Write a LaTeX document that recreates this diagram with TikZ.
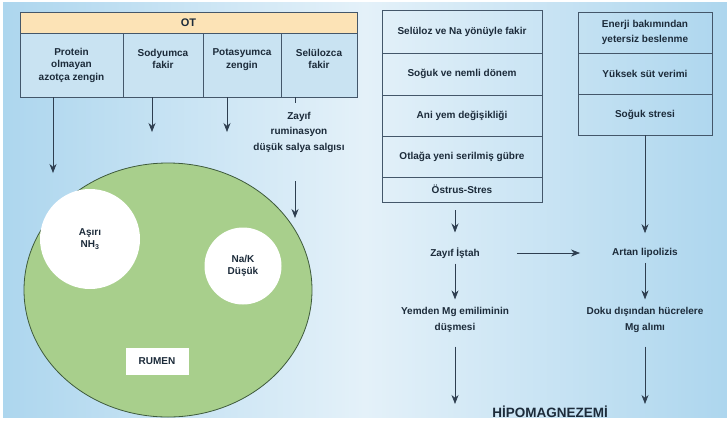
\documentclass[tikz,border=0pt]{standalone}
\usepackage{fontspec}
\setmainfont{Liberation Sans}
\usetikzlibrary{arrows.meta, shapes.geometric, positioning}

\definecolor{bgblue}{HTML}{ADD6EE}
\definecolor{bgmid}{HTML}{E4F1F9}
\definecolor{otfill}{HTML}{FCE3B6}
\definecolor{cellblue}{HTML}{C9E3F2}
\definecolor{boxline}{HTML}{44576A}
\definecolor{arrline}{HTML}{2E3E50}
\definecolor{txt}{HTML}{1C2B3A}
\definecolor{rumgreen}{HTML}{A8CF8C}
\definecolor{rumline}{HTML}{3E5A3C}

\newcommand{\cfont}{\fontsize{10}{12.5}\selectfont\bfseries}
\newcommand{\lfont}{\fontsize{10}{15.5}\selectfont\bfseries}

\tikzset{
  cell/.style={draw=boxline, line width=0.8pt, fill=cellblue, align=center, font=\cfont, text=txt, inner sep=1pt},
  lbl/.style={align=center, font=\lfont, text=txt, inner sep=2pt},
  ln/.style={draw=arrline, line width=0.7pt},
  arr/.style={ln, -{Stealth[length=9pt,width=7pt]}}
}

\begin{document}
\begin{tikzpicture}[x=1pt, y=-1pt]
\useasboundingbox (0,0) rectangle (727,429);
\shade[left color=bgblue, right color=bgblue, middle color=bgmid] (3,2) rectangle (727,417);

% OT table
\node[cell, fill=otfill, minimum width=337pt, minimum height=21pt, font=\fontsize{11}{12}\selectfont\bfseries] (ot) at (188.5,22.5) {OT};
\node[cell, minimum width=103pt, minimum height=64pt] (c1) at (71.5,65) {Protein\\olmayan\\azotça zengin};
\node[cell, minimum width=80pt, minimum height=64pt] (c2) at (163,65) {Sodyumca\\fakir\\~};
\node[cell, minimum width=78pt, minimum height=64pt] (c3) at (242,65) {Potasyumca\\zengin\\~};
\node[cell, minimum width=76pt, minimum height=64pt] (c4) at (319,65) {Selülozca\\fakir\\~};

% rumen
\node[ellipse, draw=rumline, line width=0.8pt, fill=rumgreen, minimum width=288pt, minimum height=254pt] (rum) at (168,290) {};
\node[circle, fill=white, minimum size=100pt, align=center, font=\cfont, text=txt] (nh) at (90,239) {Aşırı\\NH\textsubscript{3}};
\node[circle, fill=white, minimum size=77pt, align=center, font=\cfont, text=txt] (nak) at (243,266) {Na/K\\Düşük};
\node[fill=white, minimum width=63pt, minimum height=27pt, font=\cfont, text=txt] (rm) at (157,361) {RUMEN};

\node[lbl] (zr) at (299,132) {Zayıf\\ruminasyon\\düşük salya salgısı};

\coordinate (a1) at (53,173);
\coordinate (a2) at (152,132);
\coordinate (a3) at (227,132);
\coordinate (t4) at (295,103);
\coordinate (a4) at (295,218);

\draw[arr] (c1.south -| a1) -- (a1);
\draw[arr] (c2.south -| a2) -- (a2);
\draw[arr] (c3.south -| a3) -- (a3);
\draw[ln] (c4.south -| t4) -- (t4);
\draw[arr, shorten <=27pt] (zr.south -| a4) -- (a4);

% right: causes
\node[cell, fill=none, minimum width=160pt, minimum height=43pt] (s1) at (462,31.5) {Selüloz ve Na yönüyle fakir};
\node[cell, fill=none, minimum width=160pt, minimum height=42pt] (s2) at (462,74) {Soğuk ve nemli dönem};
\node[cell, fill=none, minimum width=160pt, minimum height=41pt] (s3) at (462,115.5) {Ani yem değişikliği};
\node[cell, fill=none, minimum width=160pt, minimum height=41pt] (s4) at (462,156.5) {Otlağa yeni serilmiş gübre};
\node[cell, fill=none, minimum width=160pt, minimum height=25pt] (s5) at (462,189.5) {Östrus-Stres};

\node[cell, fill=none, minimum width=134pt, minimum height=41pt] (e1) at (645,32.5) {Enerji bakımından\\[3pt]yetersiz beslenme};
\node[cell, fill=none, minimum width=134pt, minimum height=41pt] (e2) at (645,73.5) {Yüksek süt verimi};
\node[cell, fill=none, minimum width=134pt, minimum height=41pt] (e3) at (645,114.5) {Soğuk stresi};

\node[lbl] (zi) at (455,253) {Zayıf İştah};
\node[lbl] (al) at (645,253) {Artan lipolizis};
\node[lbl] (ym) at (455,320) {Yemden Mg emiliminin\\düşmesi};
\node[lbl] (dm) at (645,320) {Doku dışından hücrelere\\Mg alımı};
\node[font=\fontsize{13.5}{15}\selectfont\bfseries, text=txt, inner sep=2pt] (hp) at (550,412) {HİPOMAGNEZEMİ};

\draw[arr, shorten <=8pt, shorten >=13pt] (s5.south -| zi) -- (zi);
\draw[arr, shorten >=13pt] (e3) -- (al);
\draw[arr, shorten <=35pt, shorten >=30pt] (zi) -- (al);
\draw[arr, shorten <=3pt, shorten >=6pt] (zi) -- (ym);
\draw[arr, shorten <=3pt, shorten >=6pt] (al) -- (dm);
\draw[arr, shorten <=12pt] (ym) -- (ym |- hp.north);
\draw[arr, shorten <=12pt] (dm) -- (dm |- hp.north);
\end{tikzpicture}
\end{document}
